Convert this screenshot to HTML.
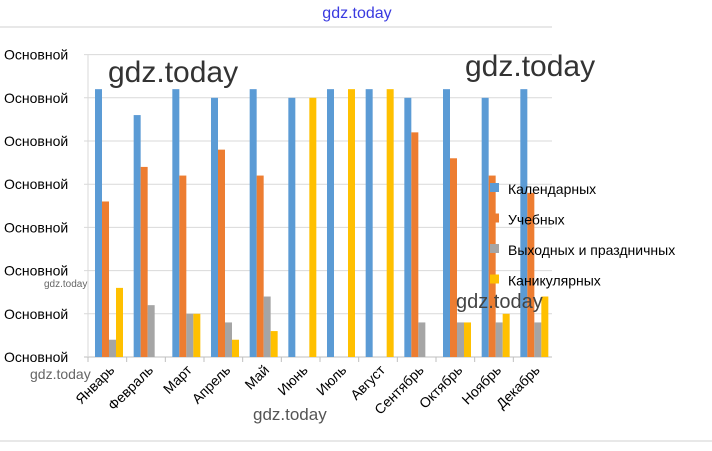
<!DOCTYPE html>
<html><head><meta charset="utf-8">
<style>
html,body{margin:0;padding:0;background:#fff;}
body{width:712px;height:446px;overflow:hidden;position:relative;font-family:"Liberation Sans","DejaVu Sans",sans-serif;}
svg text{font-family:"Liberation Sans","DejaVu Sans",sans-serif;}
</style></head>
<body>
<svg id="chart" width="712" height="446" xmlns="http://www.w3.org/2000/svg">
  <line x1="0" y1="27" x2="552" y2="27" stroke="#d0d0d0" stroke-width="1"/>
  <line x1="0" y1="441" x2="712" y2="441" stroke="#d0d0d0" stroke-width="1"/>
  <g id="grid"></g>
  <g id="ylabels"></g>
  <g id="bars"></g>
  <g id="xlabels"></g>
  <g id="legend"></g>
  <text x="357" y="18" font-size="16" fill="#3a3ae0" text-anchor="middle">gdz.today</text>
  <text x="108" y="82" font-size="30" fill="#333">gdz.today</text>
  <text x="465" y="76" font-size="30" fill="#333">gdz.today</text>
  <text x="44" y="287" font-size="10" fill="#666">gdz.today</text>
  <text x="30" y="379" font-size="14" fill="#666">gdz.today</text>
  <text x="253" y="420" font-size="17" fill="#555">gdz.today</text>
  <text x="456" y="308" font-size="20" fill="#444">gdz.today</text>
</svg>
<script>
const months = ["Январь","Февраль","Март","Апрель","Май","Июнь","Июль","Август","Сентябрь","Октябрь","Ноябрь","Декабрь"];
const calendarDays = [31,28,31,30,31,30,31,31,30,31,30,31];
const schoolDays = [18,22,21,24,21,0,0,0,26,23,21,19];
const holidayDays = [2,6,5,4,7,0,0,0,4,4,4,4];
const vacationDays = [8,0,5,2,3,30,31,31,0,4,5,7];
const seriesNames = ["Календарных","Учебных","Выходных и праздничных","Каникулярных"];
const yTicks = [0,5,10,15,20,25,30,35];
const yTickLabel = "Основной";

const NS="http://www.w3.org/2000/svg";
const plotLeft=88, plotRight=552, baseY=357, pxPerUnit=8.64;
const colors=["#5b9bd5","#ed7d31","#a5a5a5","#ffc000"];
const y = v => baseY - v*pxPerUnit;
const catW=(plotRight-plotLeft)/months.length;
const xCat = i => plotLeft + i*catW;
function mk(tag,attrs,parent){const e=document.createElementNS(NS,tag);for(const k in attrs)e.setAttribute(k,attrs[k]);parent.appendChild(e);return e;}

const grid=document.getElementById('grid'), yl=document.getElementById('ylabels');
yTicks.forEach(t=>{
  const l=mk('line',{x1:84,x2:plotRight,y1:y(t),y2:y(t),stroke:t===0?'#bfbfbf':'#d9d9d9','stroke-width':1},grid);
  
  
  const tx=mk('text',{x:4,y:y(t)+5,'font-size':14,fill:'#000'},yl);
  tx.textContent=yTickLabel;
  
  
});
const ax=mk('line',{x1:plotLeft,x2:plotLeft,y1:y(yTicks[yTicks.length-1]),y2:baseY,stroke:'#d9d9d9'},grid);



const bars=document.getElementById('bars');
const series=[calendarDays,schoolDays,holidayDays,vacationDays];
months.forEach((m,i)=>{
  series.forEach((s,j)=>{
    const v=s[i]; if(!v) return;
    const r=mk('rect',{x:xCat(i)+7+j*7,y:y(v),width:7,height:v*pxPerUnit,fill:colors[j]},bars);
    
    
  });
  const tk=mk('line',{x1:xCat(i),x2:xCat(i),y1:baseY,y2:baseY+5,stroke:'#bfbfbf'},grid);
  
  
  const cx=xCat(i)+catW/2+8;
  const t=mk('text',{x:cx,y:baseY+14,'font-size':14,fill:'#000','text-anchor':'end',transform:`rotate(-45 ${cx} ${baseY+14})`},document.getElementById('xlabels'));
  t.textContent=m;
  
  
});

const lg=document.getElementById('legend');
seriesNames.forEach((n,j)=>{
  const yy=189+j*30.5;
  const r=mk('rect',{x:490,y:yy-6,width:9,height:9,fill:colors[j]},lg);
  
  
  const t=mk('text',{x:508,y:yy+5,'font-size':14,fill:'#000'},lg);
  t.textContent=n;
  
  
});
</script>
</body></html>
